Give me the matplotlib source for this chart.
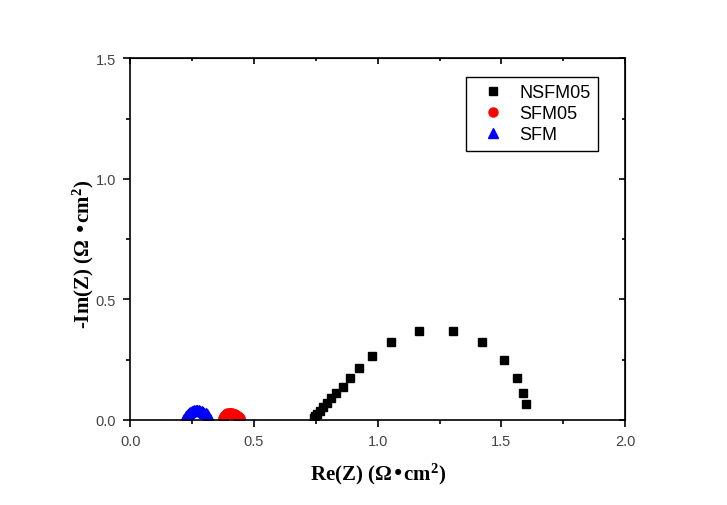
import numpy as np
import matplotlib
matplotlib.use('Agg')
import matplotlib.pyplot as plt
from matplotlib.ticker import MultipleLocator

# NSFM05 impedance arc
nsfm05_re = [0.741, 0.747, 0.754, 0.765, 0.778, 0.795, 0.812, 0.831, 0.858,
             0.889, 0.925, 0.976, 1.053, 1.168, 1.303, 1.421, 1.511, 1.562,
             1.586, 1.600]
nsfm05_im = [0.007, 0.015, 0.025, 0.039, 0.055, 0.069, 0.091, 0.112, 0.138,
             0.173, 0.215, 0.267, 0.325, 0.369, 0.369, 0.325, 0.250, 0.174,
             0.113, 0.066]

# SFM05 impedance arc
sfm05_re = [0.374, 0.377, 0.380, 0.384, 0.388, 0.393, 0.398, 0.403, 0.408,
            0.413, 0.418, 0.423, 0.428, 0.432, 0.436, 0.439, 0.442, 0.445]
sfm05_im = [0.004, 0.010, 0.015, 0.020, 0.024, 0.027, 0.028, 0.029, 0.029,
            0.028, 0.026, 0.024, 0.021, 0.018, 0.015, 0.012, 0.009, 0.006]

# SFM impedance arc
sfm_re = [0.218, 0.221, 0.224, 0.228, 0.232, 0.237, 0.242, 0.248, 0.254,
          0.260, 0.266, 0.272, 0.278, 0.284, 0.290, 0.295, 0.300, 0.305,
          0.309, 0.313, 0.316, 0.319, 0.321]
sfm_im = [0.004, 0.010, 0.016, 0.021, 0.026, 0.030, 0.034, 0.037, 0.039,
          0.040, 0.041, 0.041, 0.040, 0.039, 0.037, 0.034, 0.031, 0.027,
          0.023, 0.018, 0.013, 0.008, 0.003]

plt.rcParams['font.family'] = ['Liberation Sans', 'DejaVu Sans']
plt.rcParams['mathtext.default'] = 'regular'

fig = plt.figure(figsize=(7.27, 5.06), dpi=100)
ax = fig.add_axes([0.179, 0.168, 0.681, 0.715])

ax.plot(nsfm05_re, nsfm05_im, 's', color='black', markersize=6, label='NSFM05')
ax.plot(sfm05_re, sfm05_im, 'o', color='red', markersize=6.5, label='SFM05')
ax.plot(sfm_re, sfm_im, '^', color='blue', markersize=7, label='SFM')

ax.set_xlim(0, 2.0)
ax.set_ylim(0, 1.5)
ax.xaxis.set_major_locator(MultipleLocator(0.5))
ax.xaxis.set_minor_locator(MultipleLocator(0.25))
ax.yaxis.set_major_locator(MultipleLocator(0.5))
ax.yaxis.set_minor_locator(MultipleLocator(0.25))
ax.tick_params(which='both', direction='out', top=False, right=False,
               labelsize=10.5, labelcolor='#444444', width=1.2)
ax.tick_params(which='major', length=5, pad=5)
ax.tick_params(which='minor', length=3)
for s in ax.spines.values():
    s.set_linewidth(1.2)

# inward ticks on top and right
for side in ['top', 'right']:
    sec = ax.secondary_xaxis('top') if side == 'top' else ax.secondary_yaxis('right')
    axis = sec.xaxis if side == 'top' else sec.yaxis
    axis.set_major_locator(MultipleLocator(0.5))
    axis.set_minor_locator(MultipleLocator(0.25))
    sec.tick_params(which='both', direction='in', labelsize=0, width=1.2)
    sec.tick_params(which='major', length=4)
    sec.tick_params(which='minor', length=2)
    axis.set_ticklabels([])

lab = dict(family=['Liberation Serif', 'DejaVu Serif'], fontweight='bold', fontsize=15)
ax.set_xlabel('Re(Z) (\u03a9\u2022cm$^{2}$)', labelpad=9, **lab)
ax.set_ylabel('-Im(Z) (\u03a9 \u2022cm$^{2}$)', **lab)
ax.yaxis.set_label_coords(-0.068, 0.46)

leg = ax.legend(loc='upper right', bbox_to_anchor=(0.945, 0.9475), fontsize=13,
                fancybox=False, edgecolor='black', framealpha=1,
                handletextpad=0.35, borderpad=0.4, labelspacing=0.22,
                handlelength=2.2, borderaxespad=0)
leg.get_frame().set_linewidth(1.0)

fig.savefig('out.png', dpi=100)
